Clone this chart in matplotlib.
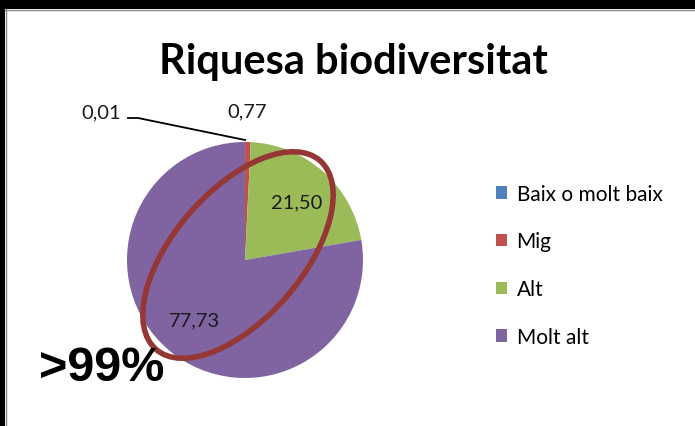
import matplotlib.pyplot as plt
import numpy as np
from matplotlib.patches import Ellipse, Rectangle

# chart data
categories = ['Baix o molt baix', 'Mig', 'Alt', 'Molt alt']
values = [0.01, 0.77, 21.50, 77.73]
colors = ['#4F81BD', '#C0504D', '#9BBB59', '#8064A2']
title = 'Riquesa biodiversitat'
note = '>99%'

W, H = 695, 427
fig = plt.figure(figsize=(W / 100, H / 100), dpi=100)
fig.patch.set_facecolor('white')

def px_box(left, top, w, h):
  return [left / W, 1 - (top + h) / H, w / W, h / H]

# pie, centre ~ (245, 261), radius ~ 118 px
R = 118
ax = fig.add_axes(px_box(245 - R, 261 - R, 2 * R, 2 * R))
wedges, _ = ax.pie(values, colors=colors, startangle=90, counterclock=False)
ax.set_xlim(-1, 1)
ax.set_ylim(-1, 1)
ax.set_aspect('equal')

def fmt(v):
  return f'{v:.2f}'.replace('.', ',')

label_font = dict(family=['Lato', 'DejaVu Sans'], fontsize=14.5, color='#1a1a1a')

# data labels: big slices inside, small ones outside
for w, v in zip(wedges, values):
  mid = np.deg2rad((w.theta1 + w.theta2) / 2)
  if v > 5:
    r = 0.66
    ax.text(r * np.cos(mid), r * np.sin(mid), fmt(v), ha='center', va='center', **label_font)

# 0,77 above the top of the pie
ax.text(0.02, 1.26, fmt(values[1]), ha='center', va='center', **label_font)

# overlay in pixel coordinates
ov = fig.add_axes([0, 0, 1, 1], zorder=5)
ov.set_xlim(0, W)
ov.set_ylim(H, 0)
ov.axis('off')
ov.patch.set_alpha(0)

# 0,01 with leader line
ov.text(101, 113, fmt(values[0]), ha='center', va='center', **label_font)
ov.plot([128, 138, 245], [119, 119, 141], color='black', lw=1.3)

# highlight ellipse
ov.add_patch(Ellipse((238, 256), 250, 128, angle=-49, fill=False,
                     edgecolor='#953735', lw=4))

ov.text(39, 369, note, fontsize=35, fontweight='bold',
        family=['Liberation Sans', 'DejaVu Sans'], ha='left', va='center')

# frame edges
ov.add_patch(Rectangle((0, 0), W, 10, color='black', lw=0))
ov.add_patch(Rectangle((0, 0), 5, H, color='black', lw=0))
ov.plot([5, W], [10.5, 10.5], color='#888888', lw=1)
ov.plot([5.5, 5.5], [10, H], color='#888888', lw=1)

fig.text(353 / W, 1 - 62 / H, title, ha='center', va='center', fontsize=30,
         fontweight='bold', family=['Lato', 'DejaVu Sans'])

leg = fig.legend(wedges, categories, loc='upper left', bbox_to_anchor=(477 / W, 1 - 166 / H),
                 frameon=False, prop={'family': 'Lato', 'size': 15},
                 labelspacing=1.33, handlelength=0.55, handleheight=0.55, handletextpad=0.45)

fig.savefig('out.png', dpi=100)
